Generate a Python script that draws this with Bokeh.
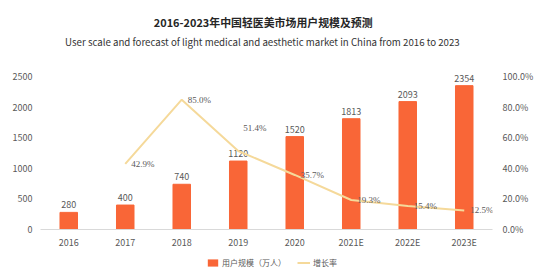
from bokeh.plotting import figure
from bokeh.layouts import column
from bokeh.models import (Range1d, LinearAxis, FixedTicker, NumeralTickFormatter,
                          Label, Legend, LegendItem, ColumnDataSource, LabelSet)
from bokeh.core.properties import value
from bokeh.embed import file_html
from bokeh.resources import INLINE

# --- data -------------------------------------------------------------
years = ["2016", "2017", "2018", "2019", "2020", "2021E", "2022E", "2023E"]
users = [280, 400, 740, 1120, 1520, 1813, 2093, 2354]          # 用户规模（万人）
rate_years = ["2017", "2018", "2019", "2020", "2021E", "2022E", "2023E"]
growth = [42.9, 85.0, 51.4, 35.7, 19.3, 15.4, 12.5]             # 增长率 (%)
left_ticks = [0, 500, 1000, 1500, 2000, 2500]
right_ticks = [0.0, 0.2, 0.4, 0.6, 0.8, 1.0]

title_cn = "2016-2023年中国轻医美市场用户规模及预测"
title_en = "User scale and forecast of light medical and aesthetic market in China from 2016 to 2023"
legend_labels = ["用户规模（万人）", "增长率"]

FONT = "Noto Sans CJK SC"
BAR = "#F96637"
LINE = "#F5D99A"
TXT = "#595959"
W = 554

bar_src = ColumnDataSource(dict(x=years, top=users, lbl=[str(v) for v in users]))
rate_src = ColumnDataSource(dict(x=rate_years, y=[g / 100 for g in growth],
                                 lbl=[f"{g:.1f}%" for g in growth],
                                 dx=[6, 6, 5, 6, 6, 6, 6],
                                 dy=[0, 0, 23, 0, 0, 0, 0]))

# --- header with the two titles (pixel coordinates, y down) -------------
HEAD_H = 58
hd = figure(width=W, height=HEAD_H, x_range=Range1d(0, W), y_range=Range1d(HEAD_H, 0),
            output_backend="svg", toolbar_location=None,
            x_axis_location=None, y_axis_location=None,
            min_border_left=0, min_border_right=0, min_border_top=0,
            min_border_bottom=0)
hd.grid.visible = False
hd.outline_line_color = None
hd.border_fill_color = "white"
hd.add_layout(Label(x=273, y=21, text=title_cn, text_align="center",
                    text_baseline="middle", text_font=FONT,
                    text_font_size="10.9px", text_font_style="bold",
                    text_color="#262626"))
hd.add_layout(Label(x=272, y=41, text=title_en, text_align="center",
                    text_baseline="middle", text_font=FONT,
                    text_font_size="9.7px", text_color="#333333"))

# --- main chart -------------------------------------------------------
# headroom above the top tick keeps the tallest bar label inside the plot area
Y_MAX = 2700
p = figure(x_range=years, y_range=Range1d(0, Y_MAX),
           width=W, height=252 - HEAD_H, output_backend="svg", toolbar_location=None,
           min_border_left=40, min_border_right=62, min_border_top=64 - HEAD_H,
           min_border_bottom=23)
p.extra_y_ranges = {"rate": Range1d(0, Y_MAX / 2500)}
p.outline_line_color = None
p.xgrid.visible = False
p.ygrid.visible = False
p.background_fill_color = "white"
p.border_fill_color = "white"

# bars with value labels
p.vbar(x="x", top="top", width=0.31, source=bar_src, color=BAR)
p.text(x="x", y="top", text="lbl", source=bar_src, text_align="center",
       text_baseline="bottom", y_offset=-4, text_font=value(FONT),
       text_font_size="9px", text_color=TXT)

# growth-rate line on the secondary axis
p.line(x="x", y="y", source=rate_src, y_range_name="rate",
       line_color=LINE, line_width=2)
p.add_layout(LabelSet(x="x", y="y", text="lbl", source=rate_src, y_range_name="rate",
                      x_offset="dx", y_offset="dy", text_align="left",
                      text_baseline="middle", text_font=FONT,
                      text_font_size="9px", text_color=TXT))


def style_axis(ax, standoff):
    ax.major_tick_line_color = None
    ax.minor_tick_line_color = None
    ax.major_tick_out = 0
    ax.major_tick_in = 0
    ax.minor_tick_out = 0
    ax.minor_tick_in = 0
    ax.major_label_standoff = standoff
    ax.major_label_text_font = FONT
    ax.major_label_text_font_size = "9px"
    ax.major_label_text_color = TXT


xa = p.xaxis[0]
style_axis(xa, 6)
xa.axis_line_color = "#D9D9D9"

ya = p.yaxis[0]
ya.ticker = FixedTicker(ticks=left_ticks)
style_axis(ya, 8)
ya.axis_line_color = None

ra = LinearAxis(y_range_name="rate", ticker=FixedTicker(ticks=right_ticks),
                formatter=NumeralTickFormatter(format="0.0%"))
style_axis(ra, 10)
ra.axis_line_color = None
p.add_layout(ra, "right")

# --- legend strip under the chart ---------------------------------------
# its glyphs share the chart's sources but lie far outside this strip's
# visible range, so only the legend keys show
lg = figure(width=W, height=22, x_range=years, y_range=Range1d(-1e7, -1e7 + 1),
            output_backend="svg", toolbar_location=None,
            x_axis_location=None, y_axis_location=None,
            min_border_left=0, min_border_right=0, min_border_top=0,
            min_border_bottom=0)
lg.extra_y_ranges = {"rate": Range1d(-1e7, -1e7 + 1)}
lg.grid.visible = False
lg.outline_line_color = None
lg.border_fill_color = "white"
lg.background_fill_color = "white"
key_bar = lg.vbar(x="x", top="top", width=0, source=bar_src,
                  fill_color=BAR, line_color=None)
key_line = lg.line(x="x", y="y", source=rate_src, y_range_name="rate",
                   line_color=LINE, line_width=2)
legend = Legend(items=[LegendItem(label=legend_labels[0], renderers=[key_bar]),
                       LegendItem(label=legend_labels[1], renderers=[key_line])],
                orientation="horizontal", location=(166, 6),
                glyph_width=13, glyph_height=9, label_standoff=3, spacing=11,
                padding=0, margin=0, border_line_color=None,
                background_fill_alpha=0, label_text_font=FONT,
                label_text_font_size="8px", label_text_color=TXT,
                label_height=9)
lg.add_layout(legend, "center")

layout = column(hd, p, lg, spacing=0)
open("out.html", "w").write(file_html(layout, INLINE))
